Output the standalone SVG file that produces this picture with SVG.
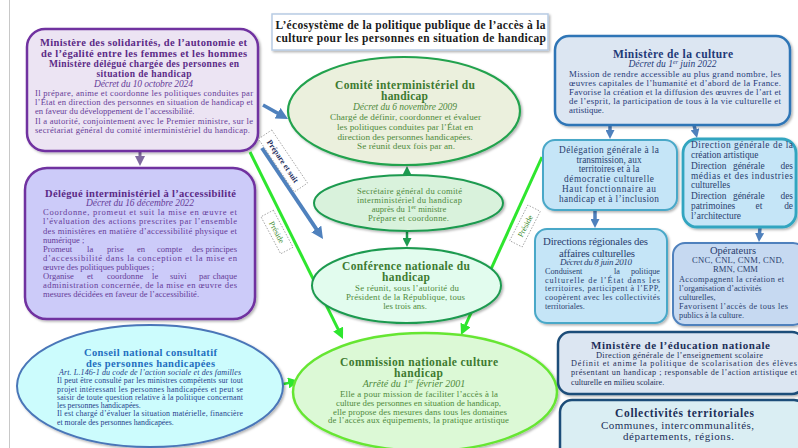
<svg xmlns="http://www.w3.org/2000/svg" width="798" height="448" viewBox="0 0 798 448">
<defs>
<style>
text{font-family:"Liberation Serif","Times New Roman",serif}
.m{text-anchor:middle}
.e{text-anchor:end}
.b{font-weight:bold}
.i{font-style:italic}
.pT{fill:#5b2a86}
.pB{fill:#663c98}
.cT{fill:#1f6fc0}
.cB{fill:#1f3d8a}
.gT{fill:#3d7a30}
.gB{fill:#4f8a3c}
.bT{fill:#1f3a78}
.lB{fill:#2b3f6f}
.nT{fill:#1c2f58}
.lbl{fill:#fff;stroke:#9a9a9a;stroke-width:0.8;stroke-dasharray:1.5 1.5}
.sh{filter:url(#shadow)}
</style>
<filter id="shadow" x="-10%" y="-10%" width="125%" height="130%">
<feDropShadow dx="1.5" dy="1.5" stdDeviation="1" flood-color="#000" flood-opacity="0.3"/>
</filter>
<marker id="mBlue" viewBox="0 0 10 10" refX="3" refY="5" markerWidth="12" markerHeight="12" markerUnits="userSpaceOnUse" orient="auto"><path d="M0,0 L10,5 L0,10 z" fill="#4f81bd"/></marker>
<marker id="mGreen" viewBox="0 0 10 10" refX="3" refY="5" markerWidth="11" markerHeight="11" markerUnits="userSpaceOnUse" orient="auto"><path d="M0,0 L10,5 L0,10 z" fill="#2ee62e"/></marker>
<marker id="mDk" viewBox="0 0 10 10" refX="3" refY="5" markerWidth="9" markerHeight="9" markerUnits="userSpaceOnUse" orient="auto"><path d="M0,0 L10,5 L0,10 z" fill="#1e9a50"/></marker>
<marker id="mPurp" viewBox="0 0 10 10" refX="3" refY="5" markerWidth="10" markerHeight="10" markerUnits="userSpaceOnUse" orient="auto"><path d="M0,0 L10,5 L0,10 z" fill="#7f6a9f"/></marker>
<marker id="mStub" viewBox="0 0 10 10" refX="3" refY="5" markerWidth="9" markerHeight="9" markerUnits="userSpaceOnUse" orient="auto"><path d="M0,0 L10,5 L0,10 z" fill="#4f81bd"/></marker>
</defs>

<rect x="0" y="0" width="798" height="448" fill="#ffffff"/>
<line x1="9.5" y1="0" x2="9.5" y2="448" stroke="#c8c8c8" stroke-width="1"/>

<g id="connectors" fill="none">
<line x1="263" y1="105" x2="280.7" y2="114.9" stroke="#4f81bd" stroke-width="3.5" marker-end="url(#mBlue)"/>
<line x1="262" y1="148" x2="318.3" y2="232" stroke="#4f81bd" stroke-width="4" marker-end="url(#mBlue)"/>
<line x1="250" y1="152" x2="339.6" y2="332.1" stroke="#2ee62e" stroke-width="3" marker-end="url(#mGreen)"/>
<line x1="542" y1="157" x2="464.2" y2="328" stroke="#2ee62e" stroke-width="3" marker-end="url(#mGreen)"/>
<line x1="283" y1="384" x2="291.5" y2="382.4" stroke="#2ee62e" stroke-width="2.5" marker-end="url(#mGreen)"/>
<line x1="407" y1="176" x2="407" y2="172.3" stroke="#1e9a50" stroke-width="2.5" marker-end="url(#mDk)"/>
<line x1="407" y1="231" x2="407" y2="240.7" stroke="#1e9a50" stroke-width="2.5" marker-end="url(#mDk)"/>
<line x1="140" y1="151" x2="140" y2="159" stroke="#7f6a9f" stroke-width="3" marker-end="url(#mPurp)"/>
<line x1="610" y1="125" x2="610" y2="132.7" stroke="#4f81bd" stroke-width="3.5" marker-end="url(#mStub)"/>
<line x1="694" y1="125" x2="695.6" y2="131.9" stroke="#4f81bd" stroke-width="3.5" marker-end="url(#mStub)"/>
<line x1="595" y1="210" x2="595" y2="221.7" stroke="#4f81bd" stroke-width="3.5" marker-end="url(#mStub)"/>
<line x1="760" y1="227" x2="759.4" y2="235.7" stroke="#4f81bd" stroke-width="3.5" marker-end="url(#mStub)"/>
</g>

<g id="title">
<rect x="272" y="14" width="276" height="36" fill="#ffffff" stroke="#b8cce4" stroke-width="1.5" class="sh"/>
<text x="410.5" y="29.3" class="m b" font-size="11.5" fill="#1a1a1a" textLength="270">L’écosystème de la politique publique de l’accès à la</text>
<text x="411" y="42.3" class="m b" font-size="11.5" fill="#1a1a1a" textLength="270">culture pour les personnes en situation de handicap</text>
</g>

<g id="n-solidarites">
<rect x="27" y="29" width="231" height="122" rx="18" fill="#ece4f3" stroke="#7030a0" stroke-width="2.5" class="sh"/>
<text x="143.5" y="45.5" class="m b pT" font-size="10.5" textLength="207">Ministère des solidarités, de l’autonomie et</text>
<text x="144" y="56.5" class="m b pT" font-size="10.5" textLength="206">de l’égalité entre les femmes et les hommes</text>
<text x="144" y="67.3" class="m b pT" font-size="9.5" textLength="190">Ministère délégué chargée des personnes en</text>
<text x="144" y="77.3" class="m b pT" font-size="9.5" textLength="95">situation de handicap</text>
<text x="143.5" y="87" class="m i pB" font-size="9.5" textLength="99">Décret du 10 octobre 2024</text>
<text x="35" y="96" class="pB" font-size="8.6" textLength="218">Il prépare, anime et coordonne les politiques conduites par</text>
<text x="35" y="105" class="pB" font-size="8.6" textLength="218">l’État en direction des personnes en situation de handicap et</text>
<text x="35" y="114" class="pB" font-size="8.6">en faveur du développement de l’accessibilité.</text>
<text x="35" y="124" class="pB" font-size="8.6" textLength="218">Il a autorité, conjointement avec le Premier ministre, sur le</text>
<text x="35" y="133.3" class="pB" font-size="8.6" textLength="215">secrétariat général du comité interministériel du handicap.</text>
</g>

<g id="n-delegue">
<rect x="25" y="168" width="230" height="151" rx="22" fill="#cccbf9" stroke="#7030a0" stroke-width="2.5" class="sh"/>
<text x="140.5" y="196.7" class="m b pT" font-size="10.5" textLength="191">Délégué interministériel à l’accessibilité</text>
<text x="140" y="205.7" class="m i pB" font-size="9.5" textLength="108">Décret du 16 décembre 2022</text>
<text x="43" y="215.3" class="pB" font-size="8.6" textLength="194">Coordonne, promeut et suit la mise en œuvre et</text>
<text x="43" y="224.4" class="pB" font-size="8.6" textLength="194">l’évaluation des actions prescrites par l’ensemble</text>
<text x="43" y="233.5" class="pB" font-size="8.6" textLength="194">des ministères en matière d’accessibilité physique et</text>
<text x="43" y="242.6" class="pB" font-size="8.6">numérique ;</text>
<text y="251.7" class="pB" font-size="8.6"><tspan x="43">Promeut</tspan><tspan x="87">la</tspan><tspan x="107">prise</tspan><tspan x="137">en</tspan><tspan x="157">compte</tspan><tspan x="192">des</tspan></text>
<text x="237" y="251.7" class="pB e" font-size="8.6">principes</text>
<text x="43" y="260.8" class="pB" font-size="8.6" textLength="194">d’accessibilité dans la conception et la mise en</text>
<text x="43" y="269.9" class="pB" font-size="8.6">œuvre des politiques publiques ;</text>
<text y="279" class="pB" font-size="8.6"><tspan x="43">Organise</tspan><tspan x="87">et</tspan><tspan x="107">coordonne</tspan><tspan x="152">le</tspan><tspan x="170">suivi</tspan><tspan x="199">par</tspan></text>
<text x="237" y="279" class="pB e" font-size="8.6">chaque</text>
<text x="43" y="288.1" class="pB" font-size="8.6" textLength="194">administration concernée, de la mise en œuvre des</text>
<text x="43" y="297.2" class="pB" font-size="8.6">mesures décidées en faveur de l’accessibilité.</text>
</g>

<g id="n-cncph">
<ellipse cx="150" cy="386" rx="133" ry="61" fill="#ccfcfd" stroke="#4a76b8" stroke-width="2" class="sh"/>
<text x="150.5" y="355.7" class="m b cT" font-size="10.5" textLength="133">Conseil national consultatif</text>
<text x="150.5" y="366.7" class="m b cT" font-size="10.5" textLength="129">des personnes handicapées</text>
<text x="150" y="374.7" class="m i cB" font-size="8" textLength="182">Art. L.146-1 du code de l’action sociale et des familles</text>
<text x="57" y="383.3" class="cB" font-size="7.8" textLength="186">Il peut être consulté par les ministres compétents sur tout</text>
<text x="57" y="391.6" class="cB" font-size="7.8" textLength="186">projet intéressant les personnes handicapées et peut se</text>
<text x="57" y="399.8" class="cB" font-size="7.8" textLength="186">saisir de toute question relative à la politique concernant</text>
<text x="57" y="408" class="cB" font-size="7.8">les personnes handicapées.</text>
<text x="57" y="416.3" class="cB" font-size="7.8" textLength="186">Il est chargé d’évaluer la situation matérielle, financière</text>
<text x="57" y="424.5" class="cB" font-size="7.8">et morale des personnes handicapées.</text>
</g>

<g id="n-comite">
<ellipse cx="404" cy="111" rx="116" ry="54" fill="#ebf0dd" stroke="#21a24d" stroke-width="2.2" class="sh"/>
<text x="405" y="89" class="m b gT" font-size="11.5" textLength="140">Comité interministériel du</text>
<text x="404.5" y="100" class="m b gT" font-size="11.5" textLength="47">handicap</text>
<text x="405" y="110" class="m i gB" font-size="9.5" textLength="104">Décret du 6 novembre 2009</text>
<text x="405.5" y="120" class="m gB" font-size="9.2" textLength="151">Chargé de définir, coordonner et évaluer</text>
<text x="405" y="130" class="m gB" font-size="9.2" textLength="136">les politiques conduites par l’État en</text>
<text x="405" y="140" class="m gB" font-size="9.2" textLength="135">direction des personnes handicapées.</text>
<text x="406" y="149.3" class="m gB" font-size="9.2" textLength="98">Se réunit deux fois par an.</text>
</g>

<g id="n-secretaire">
<ellipse cx="408.5" cy="203" rx="94.5" ry="28" fill="#d9f2dc" stroke="#1e9a50" stroke-width="2" class="sh"/>
<text x="409.5" y="194" class="m gB" font-size="8.6" textLength="105">Secrétaire général du comité</text>
<text x="409.5" y="202.7" class="m gB" font-size="8.6" textLength="105">interministériel du handicap</text>
<text x="409" y="211.7" class="m gB" font-size="8.6">auprès du 1<tspan font-size="6" dy="-3">er</tspan><tspan dy="3"> ministre</tspan></text>
<text x="408.5" y="221" class="m gB" font-size="8.6" textLength="81">Prépare et coordonne.</text>
</g>

<g id="n-conference">
<ellipse cx="406.5" cy="285.5" rx="94.5" ry="37.5" fill="#e2fcee" stroke="#1e9a50" stroke-width="2" class="sh"/>
<text x="406" y="270" class="m b gT" font-size="11.5" textLength="128">Conférence nationale du</text>
<text x="406" y="281" class="m b gT" font-size="11.5" textLength="48">handicap</text>
<text x="407" y="290.7" class="m gB" font-size="8.8" textLength="104">Se réunit, sous l’autorité du</text>
<text x="405.5" y="299.7" class="m gB" font-size="8.8" textLength="119">Président de la République, tous</text>
<text x="405" y="308.7" class="m gB" font-size="8.8">les trois ans.</text>
</g>

<g id="n-commission">
<ellipse cx="425" cy="392" rx="132" ry="59" fill="#dcf9d6" stroke="#66e633" stroke-width="2.5" class="sh"/>
<text x="419" y="366" class="m b gT" font-size="11.5" textLength="158">Commission nationale culture</text>
<text x="418.5" y="376.7" class="m b gT" font-size="11.5" textLength="49">handicap</text>
<text x="414" y="386.7" class="m i gB" font-size="10">Arrêté du 1<tspan font-size="6.5" dy="-3.5">er</tspan><tspan dy="3.5"> février 2001</tspan></text>
<text x="419" y="397.3" class="m gB" font-size="8.8" textLength="158">Elle a pour mission de faciliter l’accès à la</text>
<text x="418.5" y="405.8" class="m gB" font-size="8.8" textLength="165">culture des personnes en situation de handicap,</text>
<text x="420" y="414.6" class="m gB" font-size="8.8" textLength="174">elle propose des mesures dans tous les domaines</text>
<text x="418.5" y="423.4" class="m gB" font-size="8.8" textLength="181">de l’accès aux équipements, la pratique artistique</text>
</g>

<g id="n-culture">
<rect x="555" y="36" width="235" height="89" rx="14" fill="#dce6f2" stroke="#2e75b6" stroke-width="2.5" class="sh"/>
<text x="673" y="58.3" class="m b bT" font-size="11.5" textLength="120">Ministère de la culture</text>
<text x="672.5" y="67.3" class="m i bT" font-size="9.5">Décret du 1<tspan font-size="6" dy="-3">er</tspan><tspan dy="3"> juin 2022</tspan></text>
<text x="569" y="77.3" class="bT" font-size="8.8" textLength="212">Mission de rendre accessible au plus grand nombre, les</text>
<text x="569" y="86.3" class="bT" font-size="8.8" textLength="212">œuvres capitales de l’humanité et d’abord de la France.</text>
<text x="569" y="95.2" class="bT" font-size="8.8" textLength="212">Favorise la création et la diffusion des œuvres de l’art et</text>
<text x="569" y="104.2" class="bT" font-size="8.8" textLength="212">de l’esprit, la participation de tous à la vie culturelle et</text>
<text x="569" y="113.2" class="bT" font-size="8.8">artistique.</text>
</g>

<g id="n-delegation">
<rect x="543" y="140" width="134" height="70" rx="12" fill="#c5e5f7" stroke="#4aa8c8" stroke-width="2" class="sh"/>
<text x="609" y="153" class="m lB" font-size="9.3" textLength="100">Délégation générale à la</text>
<text x="609" y="162.5" class="m lB" font-size="9.3">transmission, aux</text>
<text x="609" y="172.3" class="m lB" font-size="9.3">territoires et à la</text>
<text x="609" y="182" class="m lB" font-size="9.3" textLength="90">démocratie culturelle</text>
<text x="609" y="191.5" class="m lB" font-size="9.3" textLength="94">Haut fonctionnaire au</text>
<text x="609" y="201.5" class="m lB" font-size="9.3" textLength="100">handicap et à l’inclusion</text>
</g>

<g id="n-directions-generales">
<rect x="683" y="139" width="113" height="88" rx="14" fill="#c5e5f7" stroke="#31a5c0" stroke-width="2.8" class="sh"/>
<text x="691" y="148" class="lB" font-size="9.4" textLength="102">Direction générale de la</text>
<text x="691" y="158" class="lB" font-size="9.4">création artistique</text>
<text x="691" y="168.5" class="lB" font-size="9.4"><tspan>Direction</tspan><tspan x="733">générale</tspan></text>
<text x="793" y="168.5" class="lB e" font-size="9.4">des</text>
<text x="691" y="178.5" class="lB" font-size="9.4" textLength="102">médias et des industries</text>
<text x="691" y="188.3" class="lB" font-size="9.4">culturelles</text>
<text x="691" y="199" class="lB" font-size="9.4"><tspan>Direction</tspan><tspan x="733">générale</tspan></text>
<text x="793" y="199" class="lB e" font-size="9.4">des</text>
<text x="691" y="209" class="lB" font-size="9.4">patrimoines</text>
<text x="759" y="209" class="lB m" font-size="9.4">et</text>
<text x="793" y="209" class="lB e" font-size="9.4">de</text>
<text x="691" y="219" class="lB" font-size="9.4">l’architecture</text>
</g>

<g id="n-drac">
<rect x="535" y="229" width="132" height="94" rx="12" fill="#c5e5f7" stroke="#4aa8c8" stroke-width="2" class="sh"/>
<text x="595.5" y="245" class="m lB" font-size="10.8" textLength="105">Directions régionales des</text>
<text x="597" y="256.7" class="m lB" font-size="10.8" textLength="76">affaires culturelles</text>
<text x="596" y="265.3" class="m i lB" font-size="9" textLength="72">Décret du 8 juin 2010</text>
<text x="545" y="274.3" class="lB" font-size="8.2">Conduisent</text>
<text x="617" y="274.3" class="lB m" font-size="8.2">la</text>
<text x="660" y="274.3" class="lB e" font-size="8.2">politique</text>
<text x="545" y="282.7" class="lB" font-size="8.2" textLength="115">culturelle de l’État dans les</text>
<text x="545" y="291.3" class="lB" font-size="8.2" textLength="115">territoires, participent à l’EPP,</text>
<text x="545" y="300.3" class="lB" font-size="8.2" textLength="115">coopèrent avec les collectivités</text>
<text x="545" y="309.3" class="lB" font-size="8.2">territoriales.</text>
</g>

<g id="n-operateurs">
<rect x="673" y="243" width="132" height="82" rx="12" fill="#c6d9f1" stroke="#4f81bd" stroke-width="2" class="sh"/>
<text x="733" y="254.3" class="m lB" font-size="10.5">Opérateurs</text>
<text x="738" y="263.3" class="m lB" font-size="8.6" textLength="92">CNC, CNL, CNM, CND,</text>
<text x="735.5" y="272" class="m lB" font-size="8.6">RMN, CMM</text>
<text x="679" y="281.5" class="lB" font-size="8.3" textLength="105">Accompagnent la création et</text>
<text x="679" y="290.5" class="lB" font-size="8.3">l’organisation d’activités</text>
<text x="679" y="299.5" class="lB" font-size="8.3">culturelles,</text>
<text x="679" y="308.5" class="lB" font-size="8.3" textLength="109">Favorisent l’accès de tous les</text>
<text x="679" y="317.5" class="lB" font-size="8.3">publics à la culture.</text>
</g>

<g id="n-education">
<rect x="558" y="332" width="246" height="62" rx="12" fill="#dce6f2" stroke="#1f4e79" stroke-width="2.5" class="sh"/>
<text x="680.5" y="349.3" class="m b nT" font-size="11" textLength="179">Ministère de l’éducation nationale</text>
<text x="679.5" y="357.7" class="m nT" font-size="8.4" textLength="167">Direction générale de l’enseignement scolaire</text>
<text x="571" y="366.3" class="nT" font-size="8.2" textLength="226">Définit et anime la politique de scolarisation des élèves</text>
<text x="571" y="375.3" class="nT" font-size="8.2" textLength="226">présentant un handicap ; responsable de l’action artistique et</text>
<text x="571" y="384.5" class="nT" font-size="8.2">culturelle en milieu scolaire.</text>
</g>

<g id="n-collectivites">
<rect x="560" y="400" width="246" height="60" rx="12" fill="#daeef3" stroke="#1f4e79" stroke-width="2.5" class="sh"/>
<text x="684.5" y="417.3" class="m b nT" font-size="11.5" textLength="139">Collectivités territoriales</text>
<text x="677.5" y="428.5" class="m nT" font-size="11" textLength="153">Communes, intercommunalités,</text>
<text x="678.5" y="439.5" class="m nT" font-size="11" textLength="111">départements, régions.</text>
</g>

<g id="connector-labels">
<g transform="translate(283,161) rotate(56)">
<rect x="-32" y="-8" width="64" height="16" class="lbl"/>
<text x="0" y="3" class="m b" font-size="8" fill="#1f3060">Prépare et suit</text>
</g>
<g transform="translate(277,232) rotate(62)">
<rect x="-21" y="-7" width="42" height="14" class="lbl"/>
<text x="0" y="3" class="m" font-size="8" fill="#3a8a2a">Préside</text>
</g>
<g transform="translate(525,226) rotate(-63)">
<rect x="-20" y="-7" width="40" height="14" class="lbl"/>
<text x="0" y="3" class="m" font-size="8" fill="#3a8a2a">Préside</text>
</g>
</g>
</svg>
